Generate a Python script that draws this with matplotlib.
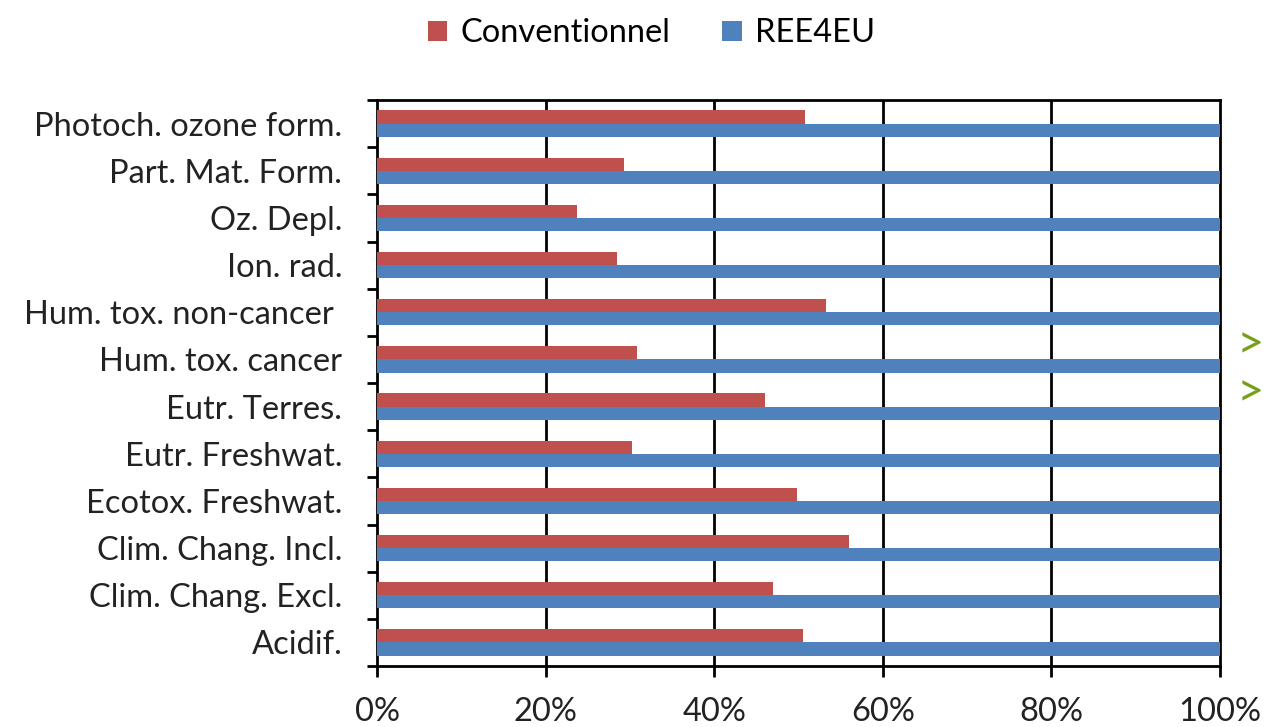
import numpy as np
import matplotlib.pyplot as plt

# data (bottom to top)
categories = ["Acidif.", "Clim. Chang. Excl.", "Clim. Chang. Incl.", "Ecotox. Freshwat.",
              "Eutr. Freshwat.", "Eutr. Terres.", "Hum. tox. cancer", "Hum. tox. non-cancer ",
              "Ion. rad.", "Oz. Depl.", "Part. Mat. Form.", "Photoch. ozone form."]
conventionnel = [0.505, 0.470, 0.560, 0.498, 0.302, 0.460, 0.308, 0.533, 0.285, 0.237, 0.293, 0.508]
ree4eu = [1.0] * 12
x_ticks = [0, 0.2, 0.4, 0.6, 0.8, 1.0]
x_tick_labels = ["0%", "20%", "40%", "60%", "80%", "100%"]

red = "#C0504D"
blue = "#4F81BD"
fs = 23.5

plt.rcParams['font.family'] = ['Lato', 'DejaVu Sans']

fig = plt.figure(figsize=(12.65, 7.27), dpi=100)
ax = fig.add_axes([377 / 1265, 1 - 666 / 727, (1220 - 377) / 1265, (666 - 100) / 727])

y = np.arange(len(categories))
h = 0.28
ax.barh(y + h / 2, conventionnel, height=h, color=red, label="Conventionnel", zorder=3)
ax.barh(y - h / 2, ree4eu, height=h, color=blue, label="REE4EU", zorder=3)

ax.set_xlim(0, 1)
ax.set_ylim(-0.5, len(categories) - 0.5)

# vertical gridlines
for xv in x_ticks[1:-1]:
    ax.axvline(xv, color="black", lw=2, zorder=1)

ax.set_xticks(x_ticks)
ax.set_xticklabels(x_tick_labels, fontsize=fs, color="#222222")
ax.tick_params(axis="x", direction="out", length=8, width=2, pad=14)

# category boundary ticks, labels at centres
ax.set_yticks(np.arange(-0.5, len(categories), 1.0))
ax.set_yticklabels([])
ax.tick_params(axis="y", which="major", direction="out", length=7, width=2)
ax.set_yticks(y, minor=True)
ax.set_yticklabels(categories, minor=True, fontsize=fs, color="#222222")
ax.tick_params(axis="y", which="minor", length=0, pad=25)

for s in ax.spines.values():
    s.set_linewidth(2)
    s.set_color("black")

fig.legend(loc="upper center", bbox_to_anchor=(0.515, 1.015), ncol=2, frameon=False,
           fontsize=fs, handlelength=0.6, handleheight=0.6, columnspacing=1.6, handletextpad=0.4)

# green markers on the right
fig.text(1250 / 1265, 1 - 345 / 727, ">", color="#76A01A", fontsize=34, ha="center", va="center")
fig.text(1250 / 1265, 1 - 393 / 727, ">", color="#76A01A", fontsize=34, ha="center", va="center")

fig.savefig("out.png", dpi=100)
